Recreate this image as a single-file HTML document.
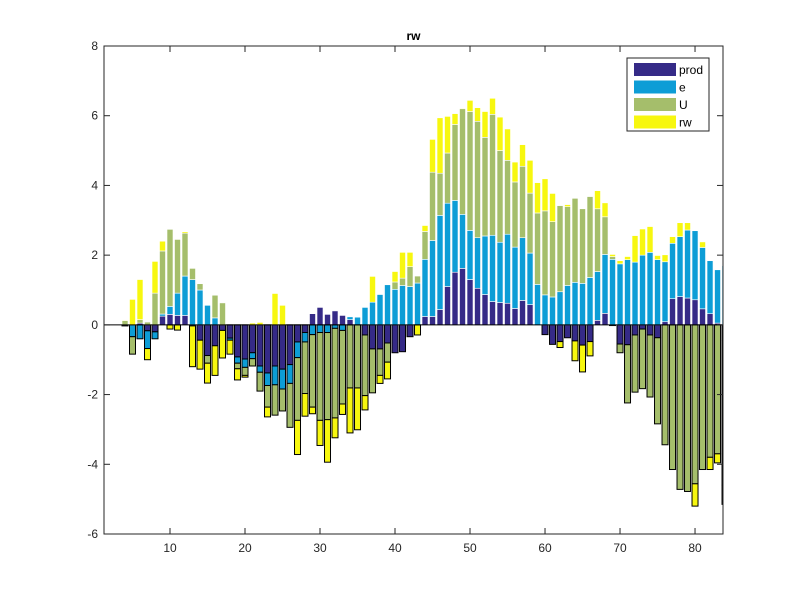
<!DOCTYPE html>
<html><head><meta charset="utf-8"><style>
body{margin:0;background:#fff;}
svg{display:block;font-family:"Liberation Sans",sans-serif;}
</style></head><body>
<svg id="chart" width="800" height="600"></svg>
<script>
const xs = [];
for (let i = 4; i <= 84; i++) xs.push(i);
const prod = [-0.03,0,0.05,-0.17,-0.2,0.25,0.3,0.27,0.27,-0.03,-0.44,-0.88,-0.6,-0.16,-0.38,-0.92,-0.98,-0.8,-1.18,-1.38,-1.18,-1.27,-1.14,-0.49,-0.22,0.32,0.5,0.3,0.4,0.27,0.15,0,-0.29,-0.69,-0.69,-0.52,-0.8,-0.77,-0.34,0,0.24,0.24,0.44,1.1,1.51,1.62,1.3,1.05,0.87,0.67,0.64,0.62,0.47,0.7,0.58,0,-0.28,-0.56,-0.48,-0.37,-0.46,-0.58,-0.48,0.13,0.33,-0.02,-0.55,-0.57,-0.29,-0.12,-0.29,-0.37,0.09,0.75,0.81,0.77,0.72,0.46,0.32,0.05,-0.45];
const eSer = [0,-0.34,-0.4,-0.51,-0.2,0.06,0.23,0.64,1.13,1.3,1.0,0.56,0.2,0,-0.06,-0.18,-0.24,-0.17,-0.18,-0.36,-0.54,-0.57,-0.54,-0.45,-0.27,-0.28,-0.22,-0.22,-0.1,-0.16,0.08,0.22,0.5,0.65,0.87,1.15,1.02,1.13,1.1,1.2,1.64,2.18,2.7,2.39,2.06,1.55,1.41,1.45,1.68,1.9,1.73,1.98,1.76,1.8,1.48,1.16,0.86,0.8,0.95,1.13,1.22,1.19,1.36,1.4,1.69,1.88,1.75,1.87,1.8,2.0,2.08,1.87,1.72,1.59,1.72,1.95,1.98,1.76,1.52,1.53,1.7];
const uSer = [0.12,-0.5,0.1,0.08,0.91,1.81,2.21,1.54,1.23,0.32,0.18,-0.22,0.65,0.63,0,-0.16,-0.23,-0.21,-0.54,-0.62,-0.87,-0.63,-1.26,-1.8,-1.48,-2.08,-2.52,-2.5,-2.57,-2.11,-1.81,-1.81,-1.74,-1.26,-0.76,-0.55,0.21,0.21,0.57,0.2,0.8,1.96,1.21,1.44,2.18,3.03,3.41,3.34,2.83,3.47,2.63,2.12,1.87,2.05,1.72,2.05,2.41,2.16,2.47,2.26,2.41,2.14,2.32,1.8,1.08,0.08,-0.25,-1.67,-1.64,-1.71,-1.78,-2.47,-3.44,-4.15,-4.72,-4.78,-4.56,-4.15,-3.8,-3.7,-4.15];
const rwSer = [0.02,0.73,1.15,-0.32,0.91,0.28,-0.12,-0.15,0.04,-1.17,-0.83,-0.57,-0.85,-0.79,-0.4,-0.32,-0.05,0.05,0.07,-0.28,0.9,0.56,0,-0.98,-0.65,-0.19,-0.72,-1.22,-0.57,-0.3,-1.29,-1.2,-0.41,0.74,-0.23,-0.48,0.3,0.74,0.41,-0.29,0.17,0.94,1.59,1.05,0.31,0.02,0.32,0.39,0.74,0.46,0.96,0.9,0.57,0.62,0.94,0.87,0.92,0.81,-0.17,0.06,-0.57,-0.77,-0.41,0.52,0.4,0.06,0.09,0.09,0.76,0.75,0.74,0.12,0.2,0.19,0.4,0.21,-0.64,0.16,-0.35,-0.26,-0.55];
const seriesNames = ["prod","e","U","rw"];
const seriesColors = ["#352a87","#0d9dd6","#a5be6b","#f7f70f"];
const yTicks = [-6,-4,-2,0,2,4,6,8];
const xTicks = [10,20,30,40,50,60,70,80];

const L=104,R=723,T=46,B=534, xmin=1.2, xmax=83.73, ymin=-6, ymax=8;
const sx = v => L + (v-xmin)/(xmax-xmin)*(R-L);
const sy = v => B - (v-ymin)/(ymax-ymin)*(B-T);
const NS="http://www.w3.org/2000/svg";
const svg=document.getElementById('chart');
function mk(tag, attrs, parent){const el=document.createElementNS(NS,tag);for(const k in attrs)el.setAttribute(k,attrs[k]);(parent||svg).appendChild(el);return el;}

const defs=mk('defs',{});
const cp=mk('clipPath',{id:'clip'},defs);
mk('rect',{x:L,y:T,width:R-L,height:B-T},cp);
const plot=mk('g',{'clip-path':'url(#clip)'});



const all=[prod,eSer,uSer,rwSer];
const bw=0.8*(R-L)/(xmax-xmin);
xs.forEach((xv,i)=>{
  let pos=0,neg=0;
  all.forEach((ser,s)=>{
    const v=ser[i]; if(!v) return;
    let y0,y1;
    if(v>0){y0=pos;y1=pos+v;pos=y1;} else {y0=neg;y1=neg+v;neg=y1;}
    const r=mk('rect',{x:sx(xv)-bw/2,y:Math.min(sy(y0),sy(y1)),width:bw,height:Math.abs(sy(y0)-sy(y1)),fill:seriesColors[s],stroke:v>0?'#ffffff':'#000000','stroke-width':v>0?0.6:1},plot);
    
    
  });
});
// zero line
const zl=mk('line',{x1:L,x2:R,y1:sy(0),y2:sy(0),stroke:'#000','stroke-width':1});



// axes box
const box=mk('rect',{x:L,y:T,width:R-L,height:B-T,fill:'none',stroke:'#262626','stroke-width':1});



yTicks.forEach(t=>{
  const y=sy(t);
  mk('line',{x1:L,x2:L+6,y1:y,y2:y,stroke:'#262626'});
  mk('line',{x1:R,x2:R-6,y1:y,y2:y,stroke:'#262626'});
  const tx=mk('text',{x:L-6,y:y+4,'text-anchor':'end','font-size':12,fill:'#262626'});
  tx.textContent=t;
  
  
});
xTicks.forEach(t=>{
  const x=sx(t);
  mk('line',{x1:x,x2:x,y1:B,y2:B-6,stroke:'#262626'});
  mk('line',{x1:x,x2:x,y1:T,y2:T+6,stroke:'#262626'});
  const tx=mk('text',{x:x,y:B+18,'text-anchor':'middle','font-size':12,fill:'#262626'});
  tx.textContent=t;
  
  
});
const title=mk('text',{x:(L+R)/2,y:40,'text-anchor':'middle','font-size':12,'font-weight':'bold',fill:'#000'});
title.textContent='rw';



// legend
const lg=mk('g',{});


mk('rect',{x:627,y:58,width:82,height:73,fill:'#fff',stroke:'#262626'},lg);
seriesNames.forEach((n,s)=>{
  const y=63+s*17.5;
  const sw=mk('rect',{x:634,y:y,width:42,height:13,fill:seriesColors[s]},lg);
  
  
  const tx=mk('text',{x:679,y:y+11,'font-size':12,fill:'#000'},lg);
  tx.textContent=n;
  
  
});
</script>
</body></html>
